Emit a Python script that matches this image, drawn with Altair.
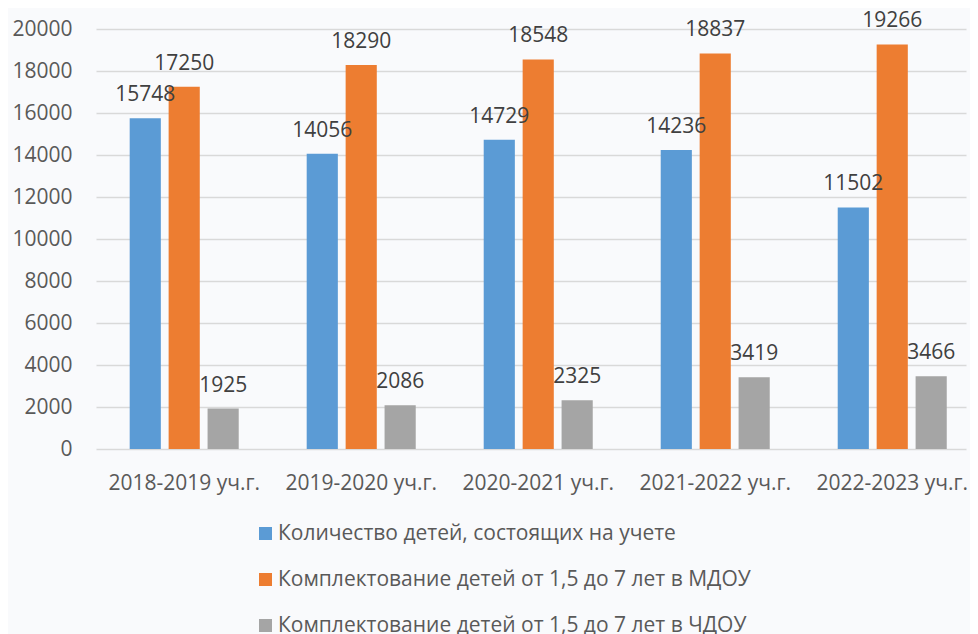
import altair as alt
import pandas as pd

years = ["2018-2019 уч.г.", "2019-2020 уч.г.", "2020-2021 уч.г.", "2021-2022 уч.г.", "2022-2023 уч.г."]
series = [
    "Количество детей, состоящих на учете",
    "Комплектование детей от 1,5 до 7 лет в МДОУ",
    "Комплектование детей от 1,5 до 7 лет в ЧДОУ",
]
registered = [15748, 14056, 14729, 14236, 11502]
mdou = [17250, 18290, 18548, 18837, 19266]
chdou = [1925, 2086, 2325, 3419, 3466]
colors = ["#5B9BD5", "#ED7D31", "#A5A5A5"]

rows = []
for name, vals in zip(series, [registered, mdou, chdou]):
    for y, v in zip(years, vals):
        rows.append({"year": y, "series": name, "value": v})
df = pd.DataFrame(rows)

FONT = "Open Sans"
FS = 21

base = alt.Chart(df).encode(
    x=alt.X(
        "year:N",
        sort=years,
        scale=alt.Scale(paddingInner=0.34, paddingOuter=0.1275, align=0.66),
        axis=alt.Axis(
            title=None, labelAngle=0, domain=False, ticks=False, tickSize=0,
            labelFontSize=FS, labelColor="#595959", labelFont=FONT,
            labelBaseline="alphabetic", labelPadding=40,
        ),
    ),
    xOffset=alt.XOffset("series:N", sort=series,
                        scale=alt.Scale(paddingInner=0.2, paddingOuter=0.1)),
    y=alt.Y(
        "value:Q",
        scale=alt.Scale(domain=[0, 20000], nice=False),
        axis=alt.Axis(
            title=None, values=list(range(0, 20001, 2000)), domain=False,
            ticks=False, tickSize=0, labelPadding=24, labelFontSize=FS,
            labelColor="#595959", labelFont=FONT, grid=True,
            gridColor="#d9d9d9", gridWidth=1.5, format="d",
        ),
    ),
)

bars = base.mark_bar().encode(
    color=alt.Color(
        "series:N", sort=series,
        scale=alt.Scale(domain=series, range=colors),
        legend=alt.Legend(
            title=None, orient="none", legendX=159, legendY=494,
            direction="vertical", symbolType="square", symbolSize=169,
            symbolStrokeWidth=0, labelFontSize=FS, labelFont=FONT,
            labelColor="#595959", rowPadding=24, labelOffset=2,
            labelLimit=800,
        ),
    )
)

labels = base.mark_text(
    baseline="alphabetic", dy=-17, fontSize=FS, font=FONT, color="#404040"
).encode(text=alt.Text("value:Q", format="d"))

chart = (
    (bars + labels)
    .properties(
        width=870, height=420, background="#f9fafc",
        autosize=alt.AutoSizeParams(type="none"),
        padding={"left": 88, "top": 21, "right": 4, "bottom": 185},
    )
    .configure_view(stroke=None)
)

chart.save("out.html", embed_options={"renderer": "svg", "actions": False})
